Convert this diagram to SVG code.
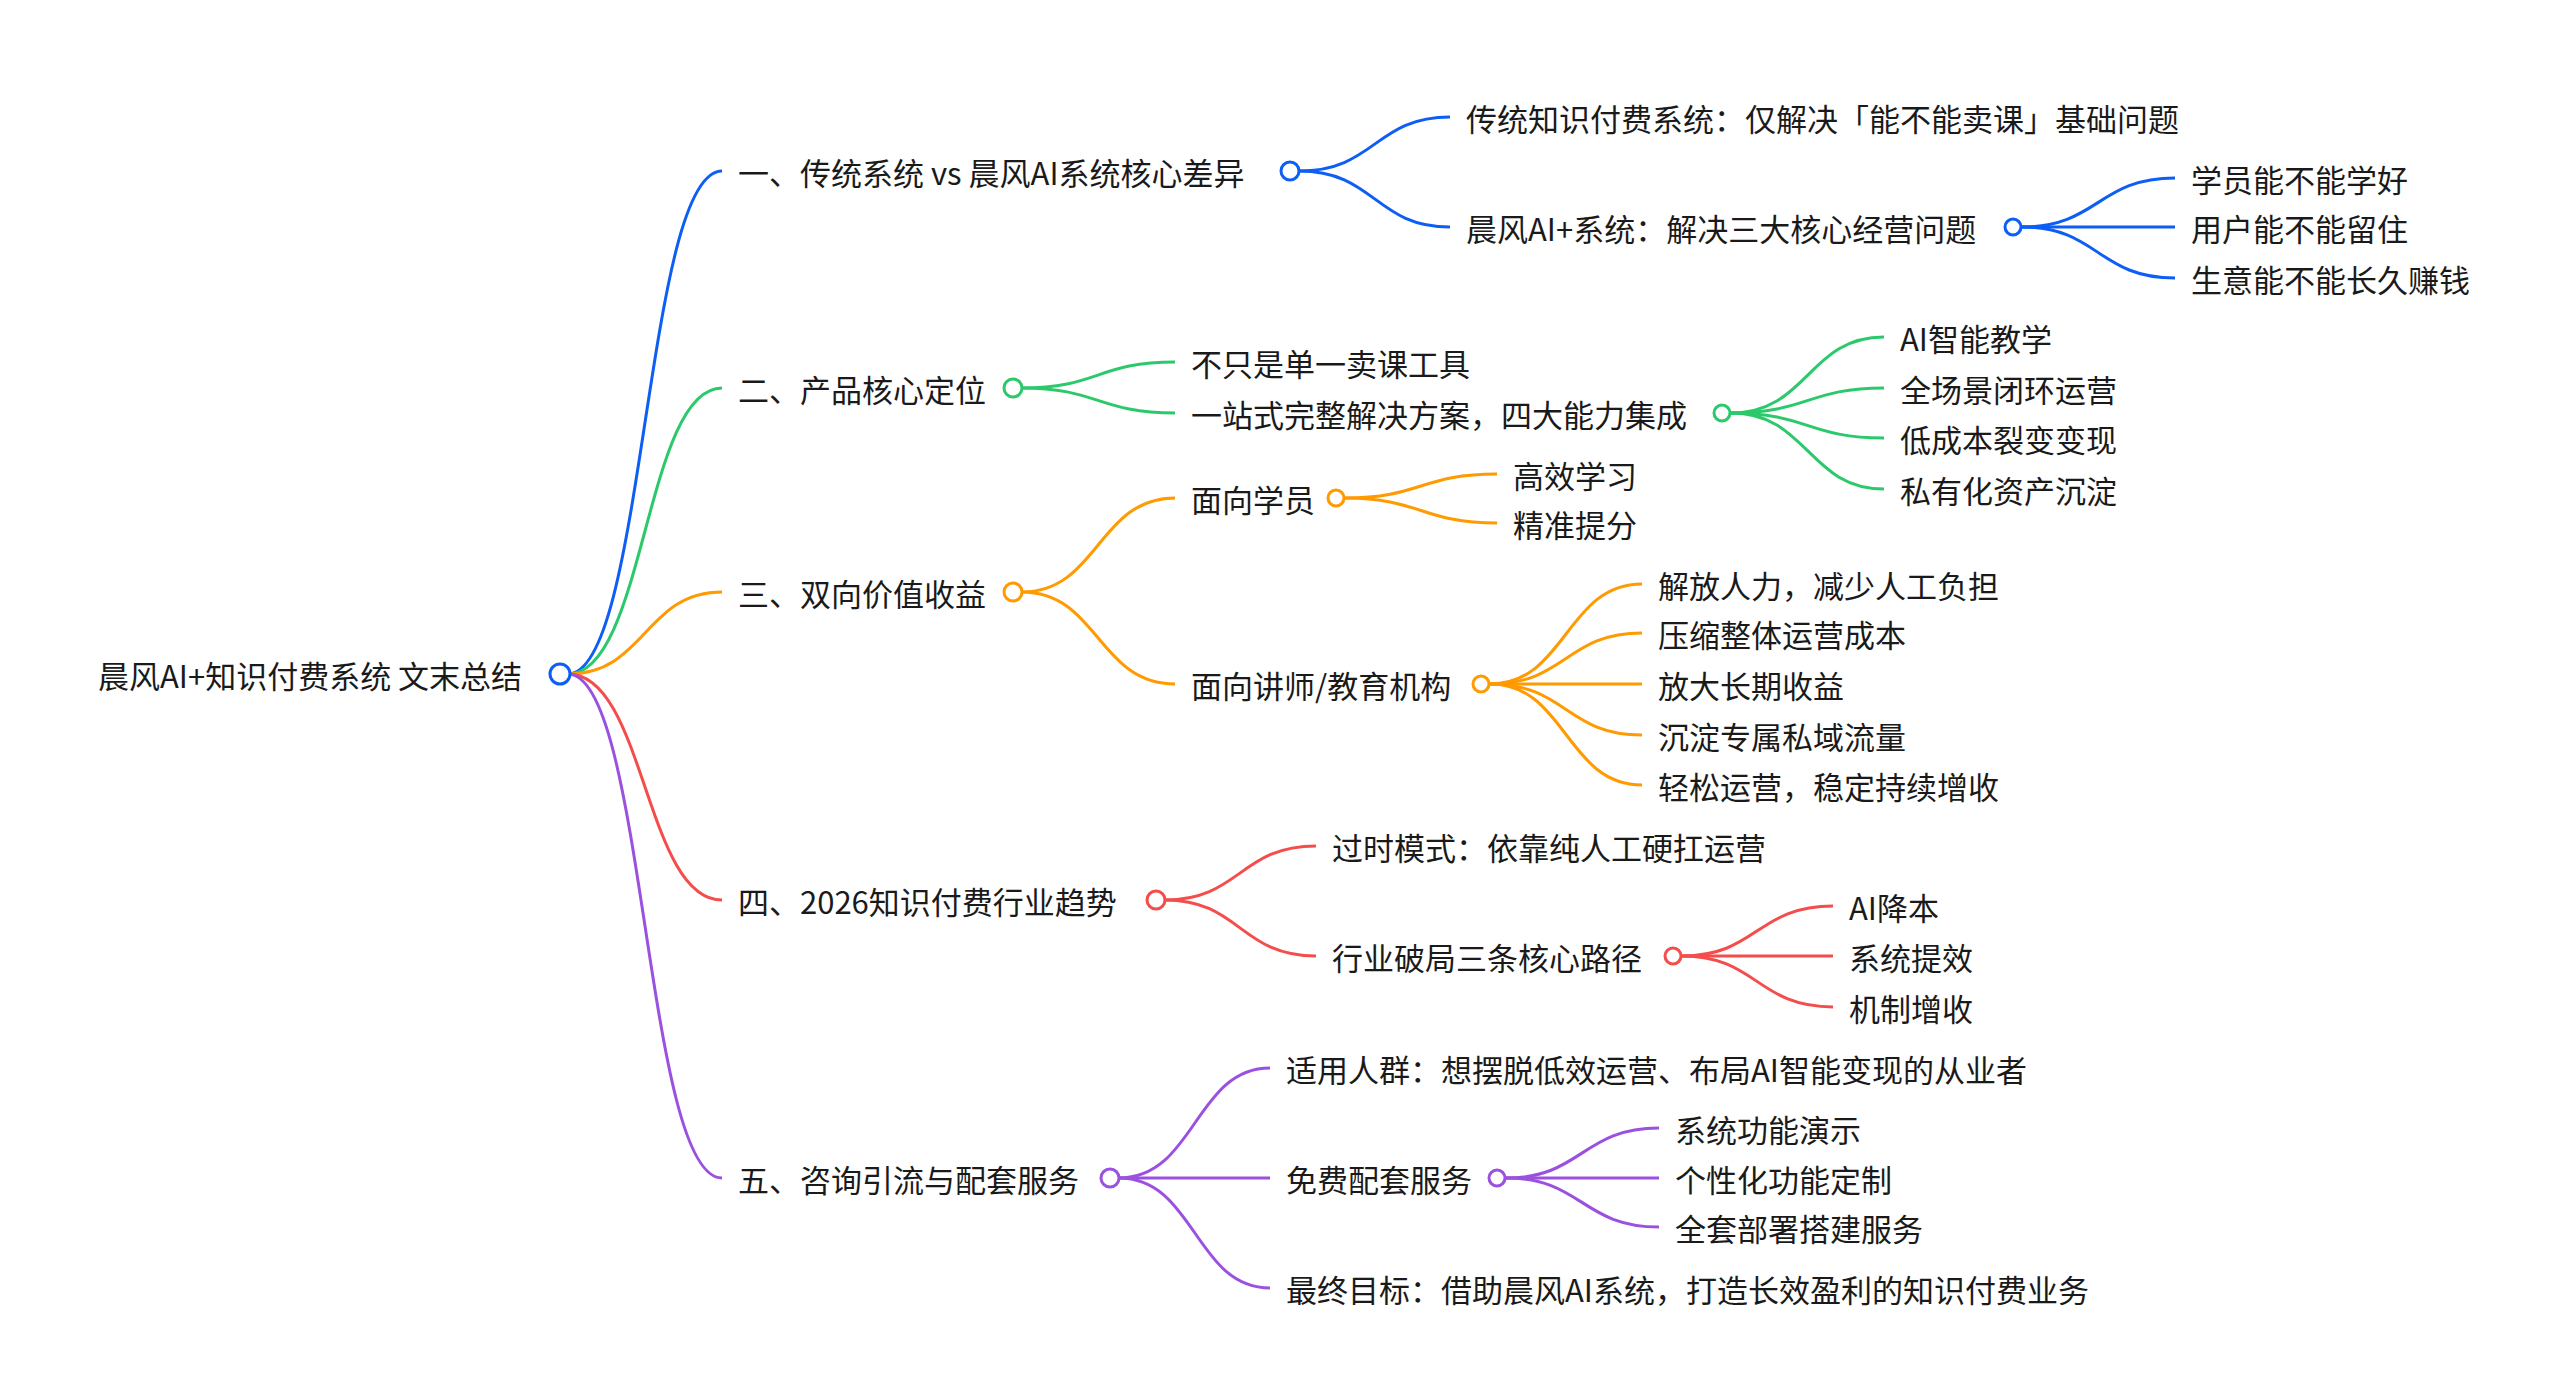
<svg xmlns="http://www.w3.org/2000/svg" width="2566" height="1397" viewBox="0 0 2566 1397">
<style>
text{font-family:"Noto Sans CJK SC","Liberation Sans",sans-serif;font-size:31px;fill:#1a1a1a;dominant-baseline:central}
path{fill:none;stroke-width:3}
circle{fill:#fff;stroke-width:3}
.b{stroke:#0d5ef5}.g{stroke:#2bc96b}.o{stroke:#ff9a00}.r{stroke:#f54c4c}.p{stroke:#9b51e0}
</style>
<rect width="2566" height="1397" fill="#fff"/>
<g id="connectors">
<path class="b" d="M568 674 C645 674,645 171,722 171" stroke-width="2.5"/>
<path class="g" d="M568 674 C645 674,645 388,722 388" stroke-width="2.5"/>
<path class="o" d="M568 674 C645 674,645 592,722 592" stroke-width="2.5"/>
<path class="r" d="M568 674 C645 674,645 900,722 900" stroke-width="2.5"/>
<path class="p" d="M568 674 C645 674,645 1178,722 1178" stroke-width="2.5"/>
<path class="b" d="M1299 171 C1375 171,1375 117,1450 117"/>
<path class="b" d="M1299 171 C1375 171,1375 227,1450 227"/>
<path class="b" d="M2022 227 C2098 227,2098 178,2175 178"/>
<path class="b" d="M2022 227 H2175"/>
<path class="b" d="M2022 227 C2098 227,2098 278,2175 278"/>
<path class="g" d="M1022 388 C1098 388,1098 362,1175 362"/>
<path class="g" d="M1022 388 C1098 388,1098 413,1175 413"/>
<path class="g" d="M1731 413 C1808 413,1808 337,1884 337"/>
<path class="g" d="M1731 413 C1808 413,1808 388,1884 388"/>
<path class="g" d="M1731 413 C1808 413,1808 438,1884 438"/>
<path class="g" d="M1731 413 C1808 413,1808 489,1884 489"/>
<path class="o" d="M1022 592 C1098 592,1098 498,1175 498"/>
<path class="o" d="M1022 592 C1098 592,1098 684,1175 684"/>
<path class="o" d="M1345 498 C1421 498,1421 474,1497 474"/>
<path class="o" d="M1345 498 C1421 498,1421 523,1497 523"/>
<path class="o" d="M1490 684 C1566 684,1566 584,1642 584"/>
<path class="o" d="M1490 684 C1566 684,1566 633,1642 633"/>
<path class="o" d="M1490 684 H1642"/>
<path class="o" d="M1490 684 C1566 684,1566 735,1642 735"/>
<path class="o" d="M1490 684 C1566 684,1566 785,1642 785"/>
<path class="r" d="M1165 900 C1240 900,1240 846,1316 846"/>
<path class="r" d="M1165 900 C1240 900,1240 956,1316 956"/>
<path class="r" d="M1682 956 C1757 956,1757 906,1833 906"/>
<path class="r" d="M1682 956 H1833"/>
<path class="r" d="M1682 956 C1757 956,1757 1007,1833 1007"/>
<path class="p" d="M1119 1178 C1195 1178,1195 1068,1270 1068"/>
<path class="p" d="M1119 1178 H1270"/>
<path class="p" d="M1119 1178 C1195 1178,1195 1288,1270 1288"/>
<path class="p" d="M1506 1178 C1582 1178,1582 1128,1659 1128"/>
<path class="p" d="M1506 1178 H1659"/>
<path class="p" d="M1506 1178 C1582 1178,1582 1227,1659 1227"/>
</g>
<g id="root"><text x="98" y="674">晨风AI+知识付费系统 文末总结</text><circle class="b" cx="560" cy="674" r="10"/></g>
<g id="n1"><text x="738" y="171">一、传统系统 vs 晨风AI系统核心差异</text><circle class="b" cx="1290" cy="171" r="9"/></g>
<g id="n1a"><text x="1466" y="117">传统知识付费系统：仅解决「能不能卖课」基础问题</text></g>
<g id="n1b"><text x="1466" y="227">晨风AI+系统：解决三大核心经营问题</text><circle class="b" cx="2013" cy="227" r="8"/></g>
<g id="n1b1"><text x="2191" y="178">学员能不能学好</text></g>
<g id="n1b2"><text x="2191" y="227">用户能不能留住</text></g>
<g id="n1b3"><text x="2191" y="278">生意能不能长久赚钱</text></g>
<g id="n2"><text x="738" y="388">二、产品核心定位</text><circle class="g" cx="1013" cy="388" r="9"/></g>
<g id="n2a"><text x="1191" y="362">不只是单一卖课工具</text></g>
<g id="n2b"><text x="1191" y="413">一站式完整解决方案，四大能力集成</text><circle class="g" cx="1722" cy="413" r="8"/></g>
<g id="n2b1"><text x="1900" y="337">AI智能教学</text></g>
<g id="n2b2"><text x="1900" y="388">全场景闭环运营</text></g>
<g id="n2b3"><text x="1900" y="438">低成本裂变变现</text></g>
<g id="n2b4"><text x="1900" y="489">私有化资产沉淀</text></g>
<g id="n3"><text x="738" y="592">三、双向价值收益</text><circle class="o" cx="1013" cy="592" r="9"/></g>
<g id="n3a"><text x="1191" y="498">面向学员</text><circle class="o" cx="1336" cy="498" r="8"/></g>
<g id="n3a1"><text x="1513" y="474">高效学习</text></g>
<g id="n3a2"><text x="1513" y="523">精准提分</text></g>
<g id="n3b"><text x="1191" y="684">面向讲师/教育机构</text><circle class="o" cx="1481" cy="684" r="8"/></g>
<g id="n3b1"><text x="1658" y="584">解放人力，减少人工负担</text></g>
<g id="n3b2"><text x="1658" y="633">压缩整体运营成本</text></g>
<g id="n3b3"><text x="1658" y="684">放大长期收益</text></g>
<g id="n3b4"><text x="1658" y="735">沉淀专属私域流量</text></g>
<g id="n3b5"><text x="1658" y="785">轻松运营，稳定持续增收</text></g>
<g id="n4"><text x="738" y="900">四、2026知识付费行业趋势</text><circle class="r" cx="1156" cy="900" r="9"/></g>
<g id="n4a"><text x="1332" y="846">过时模式：依靠纯人工硬扛运营</text></g>
<g id="n4b"><text x="1332" y="956">行业破局三条核心路径</text><circle class="r" cx="1673" cy="956" r="8"/></g>
<g id="n4b1"><text x="1849" y="906">AI降本</text></g>
<g id="n4b2"><text x="1849" y="956">系统提效</text></g>
<g id="n4b3"><text x="1849" y="1007">机制增收</text></g>
<g id="n5"><text x="738" y="1178">五、咨询引流与配套服务</text><circle class="p" cx="1110" cy="1178" r="9"/></g>
<g id="n5a"><text x="1286" y="1068">适用人群：想摆脱低效运营、布局AI智能变现的从业者</text></g>
<g id="n5b"><text x="1286" y="1178">免费配套服务</text><circle class="p" cx="1497" cy="1178" r="8"/></g>
<g id="n5b1"><text x="1675" y="1128">系统功能演示</text></g>
<g id="n5b2"><text x="1675" y="1178">个性化功能定制</text></g>
<g id="n5b3"><text x="1675" y="1227">全套部署搭建服务</text></g>
<g id="n5c"><text x="1286" y="1288">最终目标：借助晨风AI系统，打造长效盈利的知识付费业务</text></g>
</svg>
